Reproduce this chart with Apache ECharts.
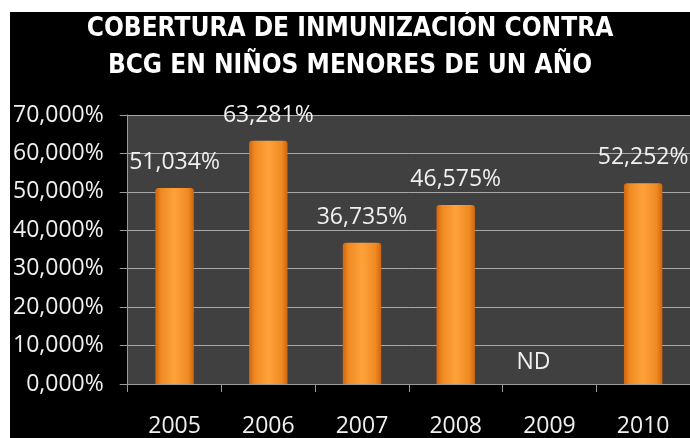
<!DOCTYPE html>
<html>
<head>
<meta charset="utf-8">
<script src="https://cdn.jsdelivr.net/npm/echarts@6/dist/echarts.min.js"></script>
<style>
  html, body { margin: 0; padding: 0; background: #fff; overflow: hidden; }
  /* the original picture has a thin white strip on top and left */
  #chart { width: 680px; height: 426px; margin-left: 10px; margin-top: 12px; }
</style>
</head>
<body>
<div id="chart"></div>
<script>
// datos
const years = ['2005', '2006', '2007', '2008', '2009', '2010']
const coverage = [51.034, 63.281, 36.735, 46.575, 0, 52.252]
const missing = [false, false, false, false, true, false]
const yTicks = [0, 10, 20, 30, 40, 50, 60, 70]

const titleFont = '"DejaVu Sans Condensed", "Liberation Sans Narrow", sans-serif'
const labelFont = '"Open Sans", "Noto Sans", sans-serif'

function fmtPct (v) {
  return v.toFixed(3).replace('.', ',') + '%'
}

const chart = echarts.init(document.getElementById('chart'))

const barData = coverage.map((v, i) => {
  if (missing[i]) {
    // sin dato -> etiqueta ND
    return {
      value: 0,
      label: { formatter: 'ND', offset: [-16, 4] }
    }
  }
  return v
})

chart.setOption({
  backgroundColor: '#000',
  title: {
    text: 'COBERTURA DE INMUNIZACIÓN CONTRA\nBCG EN NIÑOS MENORES DE UN AÑO',
    left: 'center',
    top: -6,
    textStyle: {
      color: '#fff',
      fontFamily: titleFont,
      fontWeight: 'bold',
      fontSize: 26,
      lineHeight: 37
    }
  },
  grid: {
    left: 117,
    right: 0,
    top: 103,
    bottom: 49,
    show: true,
    backgroundColor: '#404040',
    borderWidth: 0
  },
  xAxis: {
    type: 'category',
    data: years,
    axisLine: { lineStyle: { color: '#9a9a9a', width: 1 } },
    axisTick: { show: true, length: 8, lineStyle: { color: '#9a9a9a' } },
    axisLabel: {
      color: '#f0f0f0',
      fontFamily: labelFont,
      fontSize: 23,
      margin: 31
    }
  },
  yAxis: {
    type: 'value',
    min: yTicks[0],
    max: yTicks[yTicks.length - 1],
    interval: 10,
    axisLine: { show: true, lineStyle: { color: '#9a9a9a', width: 1 } },
    axisTick: { show: true, length: 8, lineStyle: { color: '#9a9a9a' } },
    splitLine: { lineStyle: { color: '#a8a8a8', width: 1 } },
    axisLabel: {
      color: '#f0f0f0',
      fontFamily: labelFont,
      fontSize: 23,
      margin: 24,
      formatter: v => fmtPct(v)
    }
  },
  series: [
    {
      type: 'bar',
      data: barData,
      barWidth: '41%',
      itemStyle: {
        borderRadius: [3, 3, 0, 0],
        color: new echarts.graphic.LinearGradient(0, 0, 1, 0, [
          { offset: 0, color: '#d0650e' },
          { offset: 0.15, color: '#f08a22' },
          { offset: 0.5, color: '#ffa23a' },
          { offset: 0.85, color: '#f08a22' },
          { offset: 1, color: '#d0650e' }
        ])
      },
      label: {
        show: true,
        position: 'top',
        distance: 14,
        color: '#f0f0f0',
        fontFamily: labelFont,
        fontSize: 23,
        formatter: p => fmtPct(p.value)
      }
    }
  ]
})
</script>
</body>
</html>
